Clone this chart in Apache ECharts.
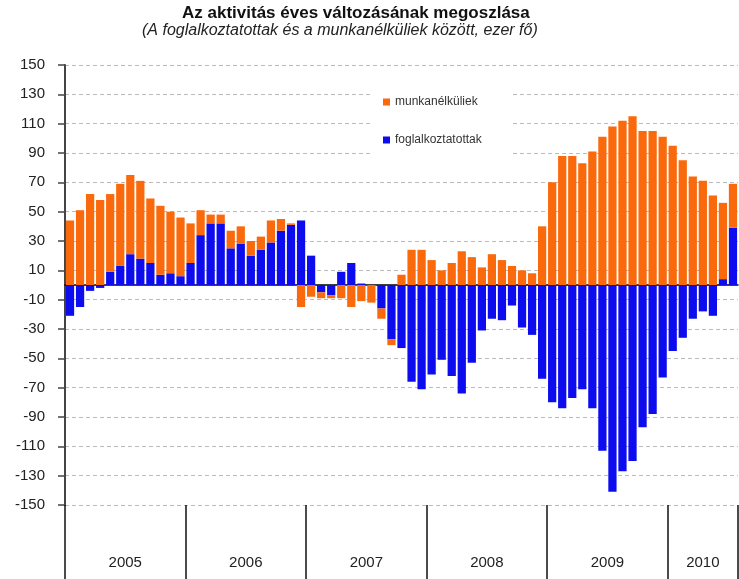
<!DOCTYPE html>
<html>
<head>
<meta charset="utf-8">
<script src="https://cdn.jsdelivr.net/npm/echarts@6/dist/echarts.min.js"></script>
<style>html,body{margin:0;padding:0;background:#fff}#c{width:739px;height:579px}</style>
</head>
<body>
<div id="c"></div>
<script>
const years = ['2005','2006','2007','2008','2009','2010'];
const monthsPerYear = [12,12,12,12,12,7];
const yTicks = {min:-150, max:150, step:20};
// foglalkoztatottak (employed), ezer fő
const employed = [
  -21,-15,-4,-2,9,13,21,18,15,7,8,6,
  15,34,42,42,25,28,20,24,29,37,41,44,
  20,-5,-7,9,15,1,0,-16,-37,-43,-66,-71,
  -61,-51,-62,-74,-53,-31,-23,-24,-14,-29,-34,-64,
  -80,-84,-77,-71,-84,-113,-141,-127,-120,-97,-88,-63,
  -45,-36,-23,-18,-21,4,39
];
// munkanélküliek (unemployed), ezer fő
const unemployed = [
  44,51,62,58,53,56,54,53,44,47,42,40,
  27,17,6,6,12,12,10,9,15,8,1,-15,
  -8,-4,-2,-9,-15,-11,-12,-7,-4,7,24,24,
  17,10,15,23,19,12,21,17,13,10,8,40,
  70,88,88,83,91,101,108,112,115,105,105,101,
  95,85,74,71,61,52,30
];
const seriesNames = ['foglalkoztatottak','munkanélküliek'];
const titleText = 'Az aktivitás éves változásának megoszlása';
const subtitleText = '(A foglalkoztatottak és a munkanélküliek között, ezer fő)';

const cats = [];
const labelIdx = {};
let k = 0;
years.forEach((y,i)=>{
  const n = monthsPerYear[i];
  for(let m=0;m<n;m++){
    cats.push(y+'-'+(m+1));
  }
  if(n===12){ labelIdx[k+5] = {y:y, shift:true}; }
  else { labelIdx[k+Math.floor(n/2)] = {y:y, shift:false}; }
  k += n;
});
const yearStart = {};
k=0; monthsPerYear.forEach(n=>{yearStart[k]=true;k+=n;});

const font = 'Liberation Sans, Arial, sans-serif';
const chart = echarts.init(document.getElementById('c'), null, {renderer:'canvas'});
chart.setOption({
  animation:false,
  backgroundColor:'#fff',
  title:[{
    text:titleText, left:182, top:5, padding:0,
    textStyle:{fontFamily:font,fontSize:17,fontWeight:'bold',color:'#111'}
  },{
    text:subtitleText, left:142, top:23, padding:0,
    textStyle:{fontFamily:font,fontSize:16,fontStyle:'italic',fontWeight:'normal',color:'#222'}
  }],
  legend:{
    data:[{name:seriesNames[1]},{name:seriesNames[0]}],
    orient:'vertical', left:370, top:90,
    padding:[6,30,10,13], itemGap:26,
    itemWidth:7, itemHeight:7, icon:'rect',
    backgroundColor:'#fff',
    textStyle:{fontFamily:font,fontSize:12,color:'#333'}
  },
  grid:{left:65,right:1,top:65,bottom:74},
  xAxis:[{
    type:'category', data:cats, position:'bottom',
    axisLine:{show:true,onZero:true,lineStyle:{color:'#000',width:1.5}},
    axisTick:{show:false}, axisLabel:{show:false}, splitLine:{show:false}
  },{
    type:'category', data:cats, position:'bottom',
    axisLine:{show:false,onZero:false},
    axisTick:{show:true,length:80,interval:(i)=>!!yearStart[i],lineStyle:{color:'#111',width:1.5}},
    axisLabel:{
      show:true, margin:50, interval:(i)=>!!labelIdx[i],
      formatter:(v,i)=>{const o=labelIdx[i]; if(!o) return ''; return o.shift?'{a|'+o.y+'}':'{b|'+o.y+'}';},
      rich:{
        a:{fontFamily:font,fontSize:15,color:'#222',padding:[0,0,0,10]},
        b:{fontFamily:font,fontSize:15,color:'#222'}
      }
    },
    splitLine:{show:false}
  }],
  yAxis:{
    type:'value', min:yTicks.min, max:yTicks.max, interval:yTicks.step,
    axisLine:{show:true,lineStyle:{color:'#444',width:2}},
    axisTick:{show:true,length:7,lineStyle:{color:'#444',width:1.5}},
    axisLabel:{fontFamily:font,fontSize:15,color:'#222',margin:20},
    splitLine:{show:true,lineStyle:{color:'#bbb',type:[4,3],width:1}}
  },
  series:[{
    name:seriesNames[0], type:'bar', stack:'a', data:employed,
    barCategoryGap:'18%', itemStyle:{color:'#0C0CEE'}
  },{
    name:seriesNames[1], type:'bar', stack:'a', data:unemployed,
    barCategoryGap:'18%', itemStyle:{color:'#FA6A0C'}
  }]
});
</script>
</body>
</html>
